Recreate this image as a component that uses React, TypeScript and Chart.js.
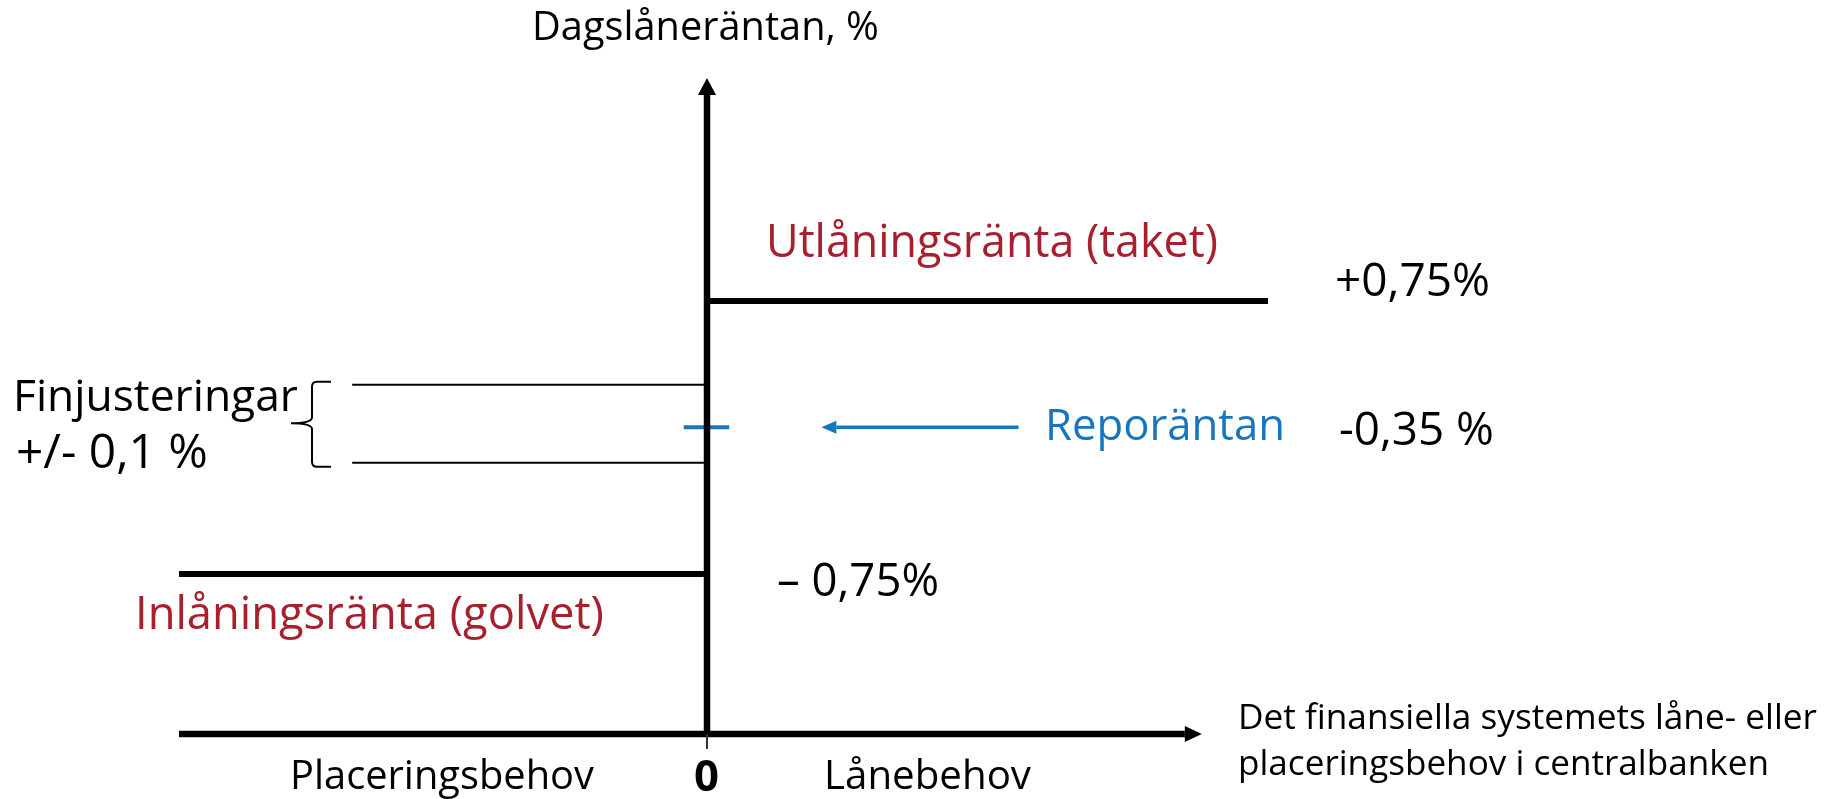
import React, { useEffect, useRef } from "react";
import { Chart, registerables } from "chart.js";

Chart.register(...registerables);

const FONT = '"Open Sans", "Noto Sans", sans-serif';
const BLACK = "#000000";
const RED = "#A6202D";
const BLUE = "#1677BD";

// Schematic diagram units: y 0 = horizontal axis, 100 = top of the rate axis; x 0 = vertical axis
const levelY = [24.4, 41.36, 46.75, 53.25, 66.0]; // floor, fine-tune low, repo, fine-tune high, ceiling
const xAxisRange = [-100, 90.5];
const yAxisRange = [0, 97.4];
const ceilingX = [0, 106.25];
const floorX = [-100, 0];
const fineX = [-67.2, 0];
const repoTickX = [-4.4, 4.2];
const repoArrowX = [59.0, 24.5];
const originTickY = [0, -2.3];

const rateLabels = ["+0,75%", "-0,35 %", "– 0,75%"];
const rateNames = ["Utlåningsränta (taket)", "Reporäntan", "Inlåningsränta (golvet)"];
const axisTitles = ["Dagslåneräntan, %", "Placeringsbehov", "0", "Lånebehov"];
const xAxisTitleLines = ["Det finansiella systemets låne- eller", "placeringsbehov i centralbanken"];
const fineLabels = ["Finjusteringar", "+/- 0,1 %"];

type Lbl = { text: string; x: number; y: number; w: number; color: string; bold?: boolean };

const labels: Lbl[] = [
  { text: axisTitles[0], x: 532, y: 39.5, w: 347, color: BLACK },
  { text: rateNames[0], x: 766, y: 256.5, w: 452, color: RED },
  { text: rateLabels[0], x: 1335, y: 295.5, w: 155, color: BLACK },
  { text: rateNames[1], x: 1045, y: 440, w: 240, color: BLUE },
  { text: rateLabels[1], x: 1339, y: 445, w: 155, color: BLACK },
  { text: fineLabels[0], x: 13, y: 410.7, w: 285, color: BLACK },
  { text: fineLabels[1], x: 16, y: 468, w: 192, color: BLACK },
  { text: rateLabels[2], x: 777, y: 596, w: 162, color: BLACK },
  { text: rateNames[2], x: 135, y: 629, w: 469, color: RED },
  { text: axisTitles[1], x: 290, y: 789, w: 304, color: BLACK },
  { text: axisTitles[2], x: 694, y: 791, w: 25, color: BLACK, bold: true },
  { text: axisTitles[3], x: 824, y: 789, w: 207, color: BLACK },
  { text: xAxisTitleLines[0], x: 1238, y: 729, w: 579, color: BLACK },
  { text: xAxisTitleLines[1], x: 1238, y: 775, w: 531, color: BLACK },
];

const seg = (x: number[], y: number[]) => [
  { x: x[0], y: y[0] },
  { x: x[1], y: y[1] },
];

const overlayPlugin = {
  id: "overlay",
  afterDraw(chart: any) {
    const ctx = chart.ctx as CanvasRenderingContext2D;
    const xs = chart.scales.x;
    const ys = chart.scales.y;
    const px = (v: number) => xs.getPixelForValue(v);
    const py = (v: number) => ys.getPixelForValue(v);
    ctx.save();
    const head = (bx: number, by: number, dx: number, dy: number, len: number, half: number, color: string) => {
      const tx = bx + dx * len;
      const ty = by + dy * len;
      const nx = -dy;
      const ny = dx;
      ctx.beginPath();
      ctx.moveTo(tx, ty);
      ctx.lineTo(bx + nx * half, by + ny * half);
      ctx.lineTo(bx - nx * half, by - ny * half);
      ctx.closePath();
      ctx.fillStyle = color;
      ctx.fill();
    };
    head(px(0), py(yAxisRange[1]), 0, -1, 17, 9, BLACK);
    head(px(xAxisRange[1]), py(0), 1, 0, 17, 8, BLACK);
    head(px(repoArrowX[1]), py(levelY[2]), -1, 0, 15, 6.5, BLUE);

    // brace for fine-tuning band
    const top = py(levelY[3]) - 3;
    const bot = py(levelY[1]) + 4;
    const mid = py(levelY[2]) - 4;
    const sx = 312;
    const rx = 331;
    const tipX = 291;
    ctx.beginPath();
    ctx.moveTo(rx, top);
    ctx.lineTo(sx + 5, top);
    ctx.quadraticCurveTo(sx, top, sx, top + 5);
    ctx.lineTo(sx, mid - 6);
    ctx.quadraticCurveTo(sx, mid, tipX, mid);
    ctx.quadraticCurveTo(sx, mid, sx, mid + 6);
    ctx.lineTo(sx, bot - 5);
    ctx.quadraticCurveTo(sx, bot, sx + 5, bot);
    ctx.lineTo(rx, bot);
    ctx.strokeStyle = BLACK;
    ctx.lineWidth = 2;
    ctx.stroke();

    ctx.textAlign = "left";
    ctx.textBaseline = "alphabetic";
    for (const l of labels) {
      const w8 = l.bold ? "bold " : "";
      ctx.font = `${w8}100px ${FONT}`;
      const m = ctx.measureText(l.text).width;
      const size = (100 * l.w) / m;
      ctx.font = `${w8}${size.toFixed(2)}px ${FONT}`;
      ctx.fillStyle = l.color;
      ctx.fillText(l.text, l.x, l.y);
    }
    ctx.restore();
  },
};

export default function App() {
  const ref = useRef<HTMLCanvasElement | null>(null);
  useEffect(() => {
    if (!ref.current) return;
    const lineDs = (data: any[], color: string, width: number) => ({
      data,
      borderColor: color,
      backgroundColor: color,
      borderWidth: width,
      showLine: true,
      pointRadius: 0,
      pointHoverRadius: 0,
      borderCapStyle: "butt",
      tension: 0,
      fill: false,
      clip: false,
    });
    const chart = new Chart(ref.current, {
      type: "scatter",
      data: {
        datasets: [
          lineDs(seg(fineX, [levelY[3], levelY[3]]), BLACK, 2),
          lineDs(seg(fineX, [levelY[1], levelY[1]]), BLACK, 2),
          lineDs(seg(repoArrowX, [levelY[2], levelY[2]]), BLUE, 3.5),
          lineDs(seg([0, 0], originTickY), "#333333", 2),
          lineDs(seg(xAxisRange, [0, 0]), BLACK, 6.5),
          lineDs(seg(ceilingX, [levelY[4], levelY[4]]), BLACK, 6),
          lineDs(seg(floorX, [levelY[0], levelY[0]]), BLACK, 6),
          lineDs(seg([0, 0], yAxisRange), BLACK, 6.5),
          lineDs(seg(repoTickX, [levelY[2], levelY[2]]), BLUE, 4),
        ] as any,
      },
      options: {
        animation: false,
        responsive: false,
        events: [],
        layout: { padding: { left: 179, top: 78, bottom: 65, right: 1837 - (707 + 120 * 5.28) } },
        scales: {
          x: { type: "linear", display: false, min: -100, max: 120 },
          y: { type: "linear", display: false, min: 0, max: 100 },
        },
        plugins: { legend: { display: false }, tooltip: { enabled: false } },
      },
      plugins: [overlayPlugin],
    });
    return () => chart.destroy();
  }, []);
  return (
    <div style={{ position: "absolute", left: 0, top: 0, width: 1837, height: 799, background: "#fff" }}>
      <canvas ref={ref} width={1837} height={799} style={{ display: "block" }} />
    </div>
  );
}
